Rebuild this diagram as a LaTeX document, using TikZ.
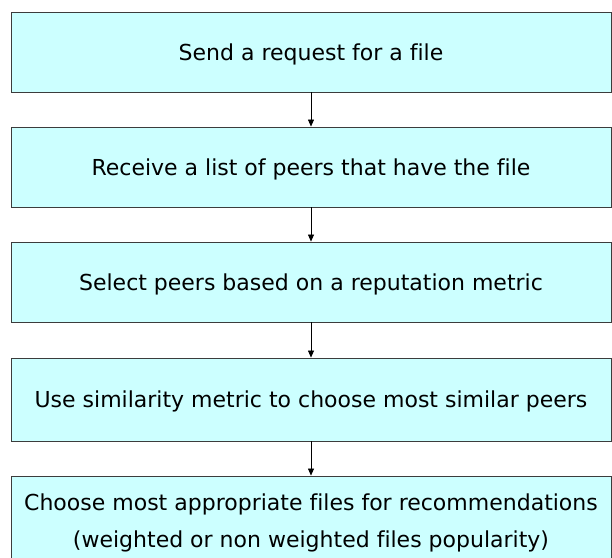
\documentclass[tikz,border=0pt]{standalone}
\usepackage{fontspec}
\setmainfont[Ligatures={NoCommon}]{DejaVu Sans}
\usetikzlibrary{arrows.meta}
\definecolor{boxfill}{RGB}{204,255,255}
\definecolor{boxline}{RGB}{60,60,60}
\begin{document}
\begin{tikzpicture}[x=1pt,y=-1pt,
  stepfont/.style={font=\fontsize{22}{37}\selectfont},
  stepbox/.style={draw=boxline, line width=0.9pt, fill=boxfill,
    minimum width=600pt, inner sep=0pt, align=center, stepfont,
    text height=20pt, text depth=4pt},
  flow/.style={-{Triangle[length=7pt,width=6pt]}, line width=0.6pt}]
\useasboundingbox (0,0) rectangle (612,557);
\clip (0,0) rectangle (612,557);
\node[stepbox, minimum height=80pt] (s1) at (311,52) {Send a request for a file};
\node[stepbox, minimum height=80pt] (s2) at (311,167) {Receive a list of peers that have the file};
\node[stepbox, minimum height=80pt] (s3) at (311,282) {Select peers based on a reputation metric};
\node[stepbox, minimum height=83pt] (s4) at (311,399.5) {Use similarity metric to choose most similar peers};
\node[stepbox, minimum height=100pt] (s5) at (311,526) {};
\node[stepfont, align=center] (t5) at (311,522.5) {Choose most appropriate files for recommendations\\(weighted or non weighted files popularity)};
\draw[flow] (s1.south) -- (s2.north);
\draw[flow] (s2.south) -- (s3.north);
\draw[flow] (s3.south) -- (s4.north);
\draw[flow] (s4.south) -- (s5.north);
\end{tikzpicture}
\end{document}
